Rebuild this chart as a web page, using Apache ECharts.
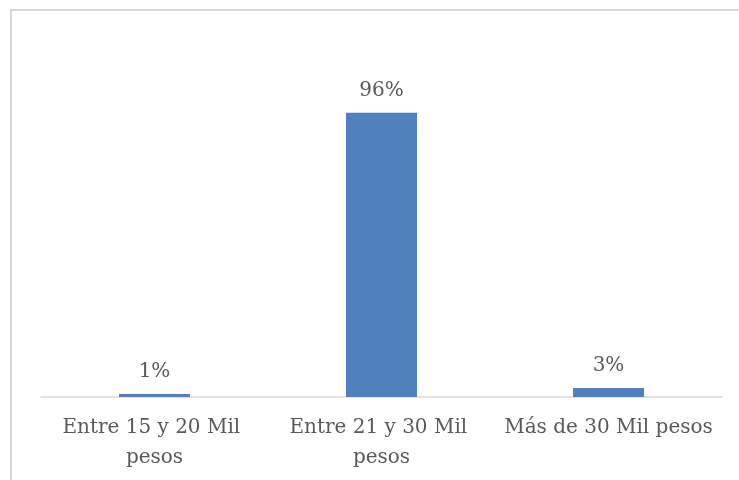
<!DOCTYPE html>
<html>
<head>
<meta charset="utf-8">
<script src="https://cdn.jsdelivr.net/npm/echarts@6/dist/echarts.min.js"></script>
<style>
  html, body { margin: 0; padding: 0; background: #ffffff; }
  #chart { width: 739px; height: 480px; }
</style>
</head>
<body>
<div id="chart"></div>
<script>
// Income ranges and share of respondents (%)
const categories = ['Entre 15 y 20 Mil pesos', 'Entre 21 y 30 Mil pesos', 'Más de 30 Mil pesos'];
const shares = [1, 96, 3];

const textColor = '#595959';
const serif = '"DejaVu Serif", "Liberation Serif", serif';

const chart = echarts.init(document.getElementById('chart'), null, { renderer: 'canvas' });
chart.setOption({
  backgroundColor: '#ffffff',
  animation: false,
  graphic: [{
    type: 'rect',
    shape: { x: 11, y: 10, width: 900, height: 700 },
    style: { fill: 'none', stroke: '#d9d9d9', lineWidth: 2 },
    silent: true,
    z: -1
  }],
  grid: { left: 41, right: 17, top: 101, bottom: 83 },
  xAxis: {
    type: 'category',
    data: categories,
    axisLine: { lineStyle: { color: '#d9d9d9', width: 1.5 } },
    axisTick: { show: false },
    axisLabel: {
      color: textColor,
      fontFamily: serif,
      fontSize: 20,
      lineHeight: 30,
      margin: 16,
      width: 220,
      overflow: 'break',
      interval: 0
    }
  },
  yAxis: {
    type: 'value',
    min: 0,
    max: 100,
    show: false,
    splitLine: { show: false }
  },
  series: [{
    type: 'bar',
    data: shares,
    barWidth: 71,
    itemStyle: { color: '#4f81bd' },
    label: {
      show: true,
      position: 'top',
      distance: 12,
      formatter: '{c}%',
      color: textColor,
      fontFamily: serif,
      fontSize: 20
    }
  }]
});
</script>
</body>
</html>
